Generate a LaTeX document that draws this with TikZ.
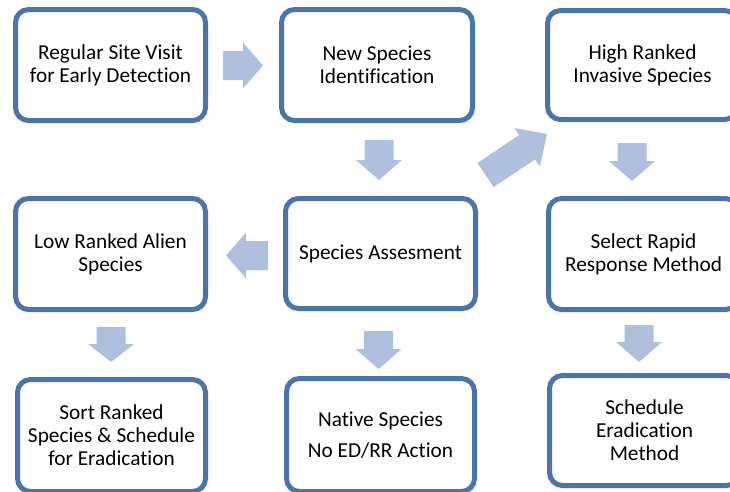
\documentclass[tikz,border=0pt]{standalone}
\usepackage{fontspec}
\setmainfont[Ligatures=NoCommon]{Carlito}
\definecolor{boxline}{RGB}{74,116,172}
\definecolor{arrowfill}{RGB}{174,192,221}
\tikzset{
  headlen/.store in=\headlen, headlen=20,
  box/.style={draw=boxline, line width=5pt, rounded corners=13pt, fill=white,
    inner sep=0pt, minimum width=190pt, minimum height=111pt, align=center,
    font=\fontsize{21.3}{23}\selectfont},
  barrow/.pic={
    \fill[arrowfill] (0,-14.5) -- (#1-\headlen,-14.5) -- (#1-\headlen,-23)
      -- (#1,0) -- (#1-\headlen,23) -- (#1-\headlen,14.5) -- (0,14.5) -- cycle;
  }
}
\begin{document}
\begin{tikzpicture}[x=1pt,y=-1pt]
\useasboundingbox (0,0) rectangle (730,491);
\clip (0,0) rectangle (730,491);
\fill[white] (0,0) rectangle (730,491);

% process boxes
\node[box] (reg) at (110.5,65) {Regular Site Visit\\for Early Detection};
\node[box, minimum width=191pt] (newsp) at (377,65) {New Species\\Identification};
\node[box, minimum height=109pt] (high) at (642.5,65) {High Ranked\\Invasive Species};
\node[box] (low) at (110.5,254) {Low Ranked Alien\\Species};
\node[box, minimum height=110pt] (assess) at (380.5,253.5) {Species Assesment};
\node[box] (rapid) at (643.5,254) {Select Rapid\\Response Method};
\node[box, minimum width=188pt, minimum height=112pt] (sort) at (111.5,435.5) {Sort Ranked\\Species \& Schedule\\for Eradication};
\node[box, minimum width=188pt, minimum height=113pt] (native) at (380.5,435) {Native Species\\[8pt]No ED/RR Action};
\node[box, minimum height=110pt] (sched) at (644.5,430.5) {Schedule\\Eradication\\Method};

% block arrows between the steps
\pic at (223,65.5) {barrow=40};
\pic[rotate=-90] at (379,140) {barrow=40};
\pic[rotate=33.7, headlen=24] at (485.5,175) {barrow=74};
\pic[rotate=-90] at (632,143) {barrow=38};
\pic[rotate=180] at (268,255.5) {barrow=42};
\pic[rotate=-90, headlen=18] at (111,327) {barrow=35};
\pic[rotate=-90] at (378.5,331) {barrow=38};
\pic[rotate=-90] at (639,325) {barrow=37};
\end{tikzpicture}
\end{document}
